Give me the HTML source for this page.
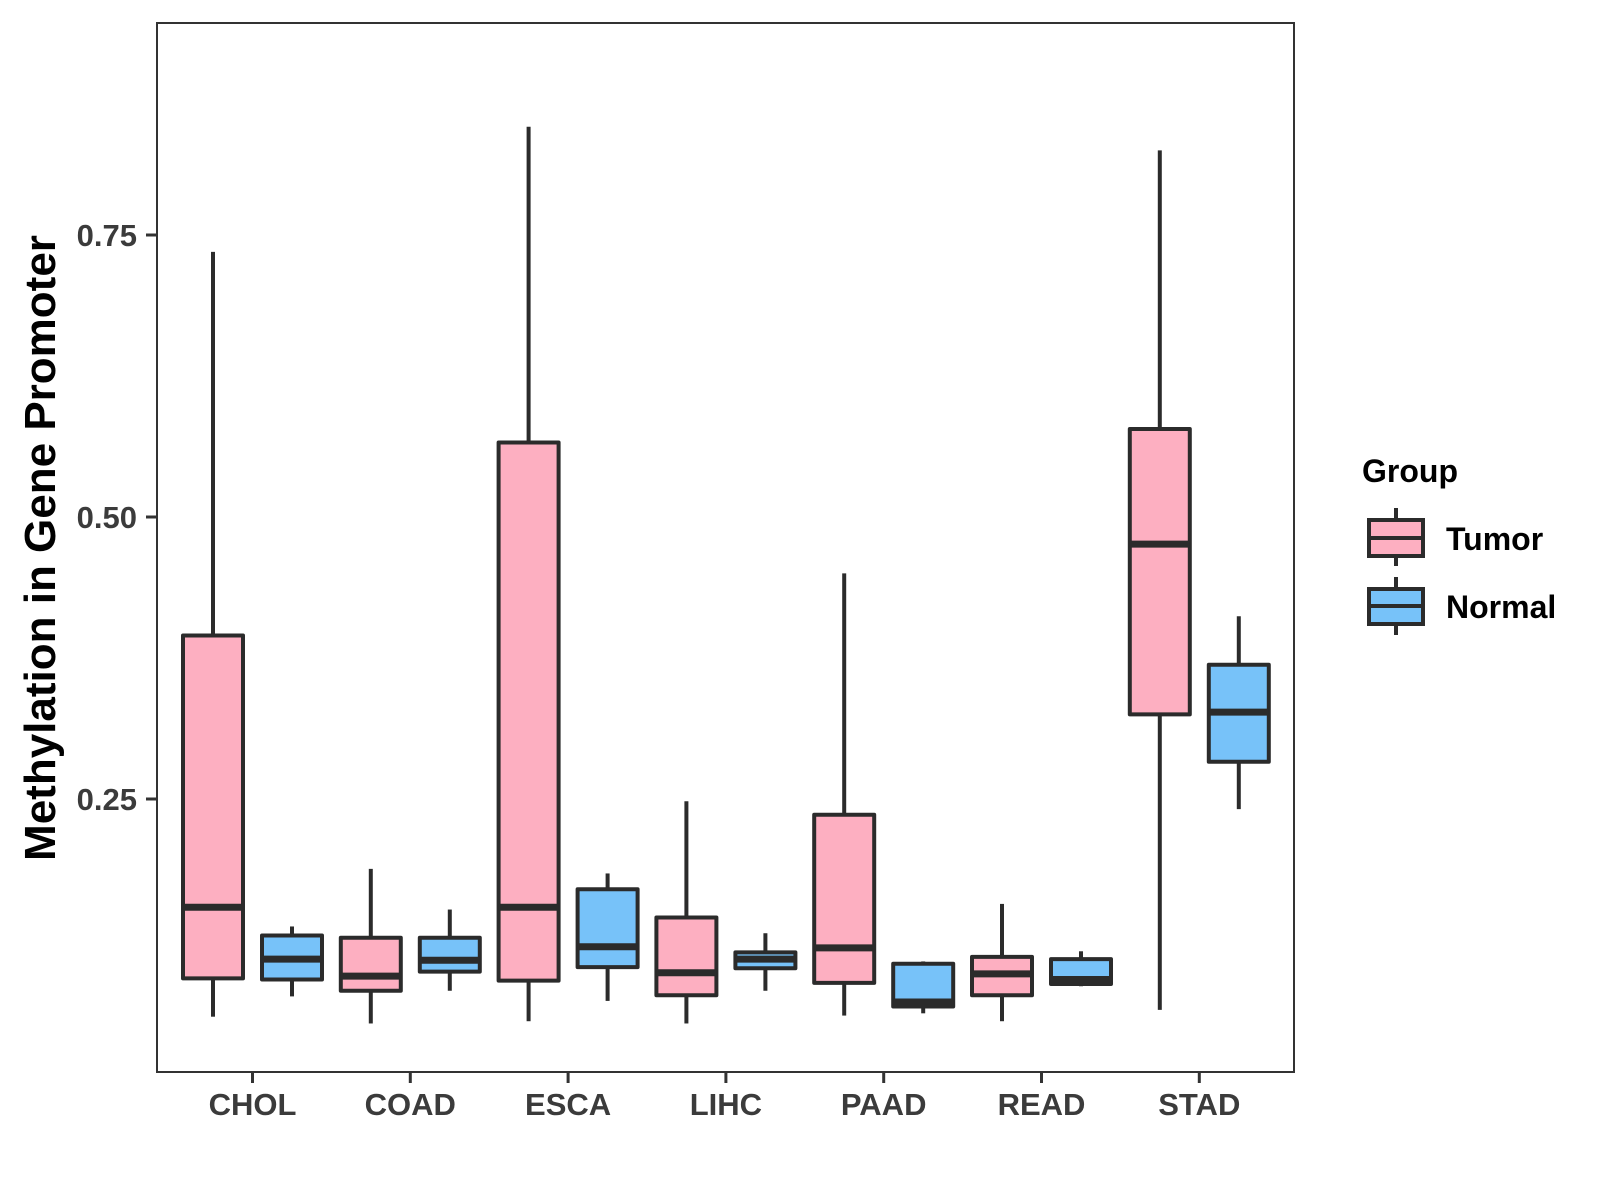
<!DOCTYPE html>
<html><head><meta charset="utf-8"><style>
html,body{margin:0;padding:0;background:#fff;}
svg{display:block;font-family:"Liberation Sans",sans-serif;}
</style></head><body>
<svg id="chart" width="1600" height="1200" viewBox="0 0 1600 1200">
<rect x="157" y="23" width="1137" height="1049" fill="#fff" stroke="#333" stroke-width="2"/>
<g id="marks"></g>
<g id="axes"></g>
<text x="55" y="548" transform="rotate(-90 55 548)" text-anchor="middle" font-size="44" font-weight="bold" fill="#000">Methylation in Gene Promoter</text>
<g>
<text x="1362" y="482" font-size="32" font-weight="bold" fill="#000">Group</text>
<g>
<line x1="1396" y1="508" x2="1396" y2="566" stroke="#2b2b2b" stroke-width="4"/>
<rect x="1369" y="520" width="54" height="36" fill="#FDAFC1" stroke="#2b2b2b" stroke-width="4"/>
<line x1="1369" y1="538" x2="1423" y2="538" stroke="#2b2b2b" stroke-width="4"/>
<text x="1446" y="550" font-size="32" font-weight="bold" fill="#000">Tumor</text>
</g>
<g>
<line x1="1396" y1="577" x2="1396" y2="635" stroke="#2b2b2b" stroke-width="4"/>
<rect x="1369" y="589" width="54" height="35" fill="#77C2F9" stroke="#2b2b2b" stroke-width="4"/>
<line x1="1369" y1="606" x2="1423" y2="606" stroke="#2b2b2b" stroke-width="4"/>
<text x="1446" y="618" font-size="32" font-weight="bold" fill="#000">Normal</text>
</g>
</g>
</svg>
<script>
const categories = ["CHOL","COAD","ESCA","LIHC","PAAD","READ","STAD"];
const yTicks = [0.25, 0.50, 0.75];
const yTickLabels = ["0.25","0.50","0.75"];
// [low, q1, median, q3, high]
const tumorStats = [
  [0.057,0.091,0.154,0.395,0.735],
  [0.051,0.080,0.093,0.127,0.188],
  [0.053,0.089,0.154,0.566,0.846],
  [0.051,0.076,0.096,0.145,0.248],
  [0.058,0.087,0.118,0.236,0.450],
  [0.053,0.076,0.095,0.110,0.157],
  [0.063,0.325,0.476,0.578,0.825]
];
const normalStats = [
  [0.075,0.090,0.108,0.129,0.137],
  [0.080,0.097,0.107,0.127,0.152],
  [0.071,0.101,0.119,0.170,0.184],
  [0.080,0.100,0.108,0.114,0.131],
  [0.060,0.066,0.070,0.104,0.106],
  [0.084,0.086,0.090,0.108,0.115],
  [0.241,0.283,0.327,0.369,0.412]
];
const NS="http://www.w3.org/2000/svg";
function yScale(v){return 799-(v-0.25)*1128;}
function xScale(i){return 252.5+157.8*i;}
function mk(tag,attrs,parent){const e=document.createElementNS(NS,tag);for(const k in attrs)e.setAttribute(k,attrs[k]);parent.appendChild(e);return e;}
const marks=document.getElementById('marks');
const axes=document.getElementById('axes');
function drawBox(s,cx,fill,name){
  const g=mk('g',{},marks);
  
  
  const c='#2b2b2b', hw=30;
  mk('line',{x1:cx,x2:cx,y1:yScale(s[4]),y2:yScale(s[3]),stroke:c,'stroke-width':4},g);
  mk('line',{x1:cx,x2:cx,y1:yScale(s[1]),y2:yScale(s[0]),stroke:c,'stroke-width':4},g);
  mk('rect',{x:cx-hw,y:yScale(s[3]),width:hw*2,height:yScale(s[1])-yScale(s[3]),fill:fill,stroke:c,'stroke-width':4,'stroke-linejoin':'round'},g);
  mk('line',{x1:cx-hw,x2:cx+hw,y1:yScale(s[2]),y2:yScale(s[2]),stroke:c,'stroke-width':7},g);
}
categories.forEach((cat,i)=>{
  drawBox(tumorStats[i],xScale(i)-39.5,'#FDAFC1','box-tumor-'+cat.toLowerCase());
  drawBox(normalStats[i],xScale(i)+39.5,'#77C2F9','box-normal-'+cat.toLowerCase());
  const x=xScale(i);
  const t=mk('line',{x1:x,x2:x,y1:1072,y2:1083,stroke:'#333','stroke-width':3},axes);
  
  
  const lb=mk('text',{x:x,y:1115,'text-anchor':'middle','font-size':31,'font-weight':'bold',fill:'#3b3b3b'},axes);
  lb.textContent=cat;
  
  
});
yTicks.forEach((v,i)=>{
  const y=yScale(v);
  const t=mk('line',{x1:146,x2:157,y1:y,y2:y,stroke:'#333','stroke-width':3},axes);
  
  
  const lb=mk('text',{x:137,y:y+11,'text-anchor':'end','font-size':31,'font-weight':'bold',fill:'#3b3b3b'},axes);
  lb.textContent=yTickLabels[i];
  
  
});
</script>
</body></html>
